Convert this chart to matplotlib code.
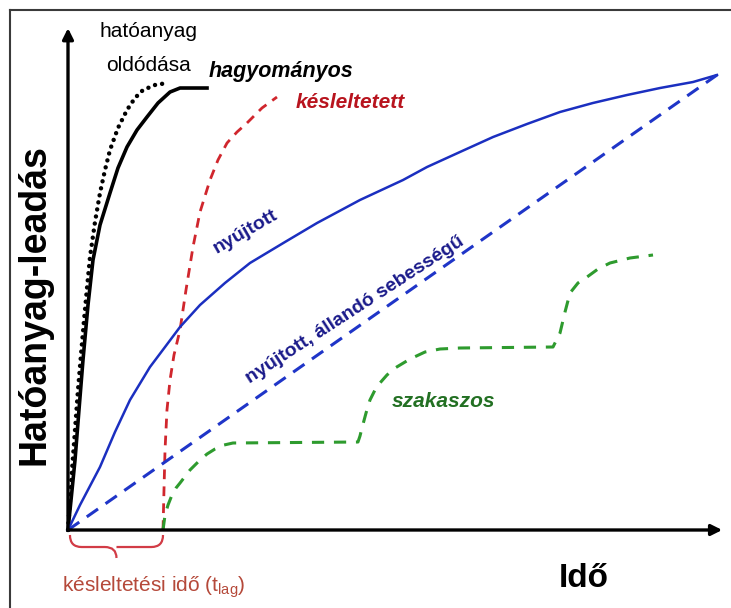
import matplotlib
matplotlib.use('Agg')
import matplotlib.pyplot as plt
from matplotlib.path import Path
from matplotlib.patches import PathPatch
from matplotlib.lines import Line2D

plt.rcParams['font.family'] = ['Liberation Sans', 'DejaVu Sans']
plt.rcParams['mathtext.fontset'] = 'custom'
plt.rcParams['mathtext.rm'] = 'Liberation Sans'

# ido (0-100) es leadott hatoanyag (0-100), a kepről leolvasva
t_oldodas = [0, 0.31, 0.62, 1.08, 1.54, 2.00, 2.47, 2.93, 3.39, 4.16, 4.93, 5.70, 6.47,
             7.70, 9.09, 10.32, 11.56, 13.41, 15.25]
c_oldodas = [0, 6.59, 13.19, 21.98, 30.77, 38.46, 46.15, 53.19, 60.0, 67.69, 74.07, 79.12,
             83.52, 88.35, 92.31, 94.95, 96.70, 97.80, 98.24]

t_hagyomanyos = [0, 0.62, 1.08, 1.69, 2.31, 3.08, 3.85, 4.93, 6.47, 7.70, 9.09, 10.63,
                 12.17, 13.87, 15.72, 17.26, 21.42]
c_hagyomanyos = [0, 8.79, 15.38, 26.37, 37.36, 49.45, 59.34, 67.03, 74.07, 79.56, 84.18,
                 87.91, 90.77, 93.85, 96.26, 97.14, 97.14]

t_kesleltetett = [14.64, 14.79, 14.95, 15.25, 15.72, 16.33, 17.26, 18.18, 19.26, 20.34,
                  21.88, 23.11, 24.50, 26.04, 27.58, 29.89, 32.20]
c_kesleltetett = [0, 8.79, 17.58, 26.37, 32.97, 38.46, 43.96, 52.75, 62.20, 69.89,
                  76.92, 81.32, 85.05, 87.47, 89.45, 92.75, 95.16]

t_nyujtott = [0, 1.85, 4.93, 7.24, 9.55, 12.63, 14.95, 17.26, 20.34, 24.19, 28.04, 33.44,
              38.37, 44.99, 51.62, 55.32, 60.40, 65.49, 70.72, 75.81, 80.89, 86.13,
              91.22, 96.30, 100]
c_nyujtott = [0, 5.49, 13.85, 21.54, 28.57, 35.82, 40.22, 44.62, 49.45, 54.29, 58.68, 63.30,
              67.47, 72.53, 76.92, 79.78, 83.08, 86.37, 89.23, 91.87, 93.85, 95.60,
              97.14, 98.46, 100]

t_allando = [0, 100]
c_allando = [0, 100]

t_szakaszos = [14.64, 14.95, 15.41, 16.02, 16.64, 17.26, 18.80, 20.34, 21.42, 22.65, 24.04,
               25.42, 44.68, 44.99, 45.30, 45.92, 46.53, 47.30, 48.07, 49.15, 50.39, 52.70,
               55.01, 57.32, 60.40, 74.73, 75.19, 75.81, 76.58, 77.35, 78.58, 79.97, 81.66,
               83.51, 86.59, 90.14]
c_szakaszos = [0, 3.30, 5.49, 7.69, 9.23, 10.33, 13.19, 15.38, 16.70, 17.80, 18.68,
               19.12, 19.34, 20.66, 22.42, 25.71, 28.57, 30.77, 32.31, 34.07, 35.60, 37.58,
               39.12, 39.78, 40.00, 40.22, 41.54, 43.30, 47.91, 52.09, 54.29, 55.60, 57.36,
               58.68, 59.78, 60.44]

t_lag = 14.64

fig = plt.figure(figsize=(7.31, 6.08), dpi=100)
fig.set(facecolor='white')
ax = fig.add_axes([68 / 731, 78 / 608, 649 / 731, 455 / 608])
ax.set_xlim(0, 100)
ax.set_ylim(0, 100)
ax.axis('off')

# keret (bal es felso)
fig.add_artist(Line2D([0.0137, 0.0137], [0, 0.9836], color='#3a3a3a', lw=1.5))
fig.add_artist(Line2D([0.0137, 1], [0.9836, 0.9836], color='#3a3a3a', lw=1.5))

ax.plot(t_oldodas, c_oldodas, color='black', lw=3.2, linestyle=(0, (0.01, 1.6)),
        dash_capstyle='round', clip_on=False)
ax.plot(t_hagyomanyos, c_hagyomanyos, color='black', lw=2.6, clip_on=False)
ax.plot(t_kesleltetett, c_kesleltetett, color='#d0262d', lw=2, linestyle=(0, (3.5, 2.6)),
        clip_on=False)
ax.plot(t_nyujtott, c_nyujtott, color='#1b2fc0', lw=1.8, clip_on=False)
ax.plot(t_allando, c_allando, color='#1f35c8', lw=2.2, linestyle=(0, (4.5, 3)), clip_on=False)
ax.plot(t_szakaszos, c_szakaszos, color='#2e9b2e', lw=2.2, linestyle=(0, (4, 3.2)),
        clip_on=False)

# tengelyek nyillal
ax.annotate('', xy=(100.8, 0), xytext=(0, 0), annotation_clip=False,
            arrowprops=dict(arrowstyle='-|>', lw=2.4, color='black', mutation_scale=16,
                            shrinkA=0, shrinkB=0))
ax.annotate('', xy=(0, 110.3), xytext=(0, 0), annotation_clip=False,
            arrowprops=dict(arrowstyle='-|>', lw=2.4, color='black', mutation_scale=16,
                            shrinkA=0, shrinkB=0))

# kapcsos zarojel a kesleltetesi idohoz
x0, x1 = 0.3, t_lag
xm = (x0 + x1) / 2
r = 1.8
ya, yb, yc = -1.1, -3.74, -6.15
verts = [(x0, ya), (x0, yb), (x0 + r, yb), (xm - r, yb), (xm, yb), (xm, yc),
         (xm, yb), (xm + r, yb), (x1 - r, yb), (x1, yb), (x1, ya)]
codes = [Path.MOVETO, Path.CURVE3, Path.CURVE3, Path.LINETO, Path.CURVE3, Path.CURVE3,
         Path.MOVETO, Path.CURVE3, Path.LINETO, Path.CURVE3, Path.CURVE3]
ax.add_patch(PathPatch(Path(verts, codes), fill=False, edgecolor='#d23c46', lw=1.6,
                       clip_on=False))

# feliratok
ax.text(12.33, 108.35, 'hatóanyag', fontsize=15, ha='center', va='baseline')
ax.text(12.33, 100.9, 'oldódása', fontsize=15, ha='center', va='baseline')
ax.text(21.6, 99.6, 'hagyományos', fontsize=15.5, fontweight='bold', fontstyle='italic',
        ha='left', va='baseline')
ax.text(35.1, 92.7, 'késleltetett', fontsize=15, fontweight='bold', fontstyle='italic',
        color='#b8141e', ha='left', va='baseline')
ax.text(27.4, 65.5, 'nyújtott', fontsize=14, fontweight='bold', color='#1a1a8a',
        rotation=30, ha='center', va='center', rotation_mode='anchor')
ax.text(44.2, 48.35, 'nyújtott, állandó sebességű', fontsize=14, fontweight='bold',
        color='#1a1a8a', rotation=33, ha='center', va='center', rotation_mode='anchor')
ax.text(57.9, 28.35, 'szakaszos', fontsize=15, fontweight='bold', fontstyle='italic',
        color='#237023', ha='center', va='center')
ax.text(-5.1, 49.45, 'Hatóanyag-leadás', fontsize=27, fontweight='bold', rotation=90,
        ha='center', va='center')
ax.text(79.5, -10.55, 'Idő', fontsize=24, fontweight='bold', ha='center', va='center')
ax.text(-0.9, -13.4, r'késleltetési idő (t$_{\mathregular{lag}}$)', fontsize=15,
        color='#b5493a', ha='left', va='baseline')

fig.savefig('out.png', dpi=100, facecolor='white')
